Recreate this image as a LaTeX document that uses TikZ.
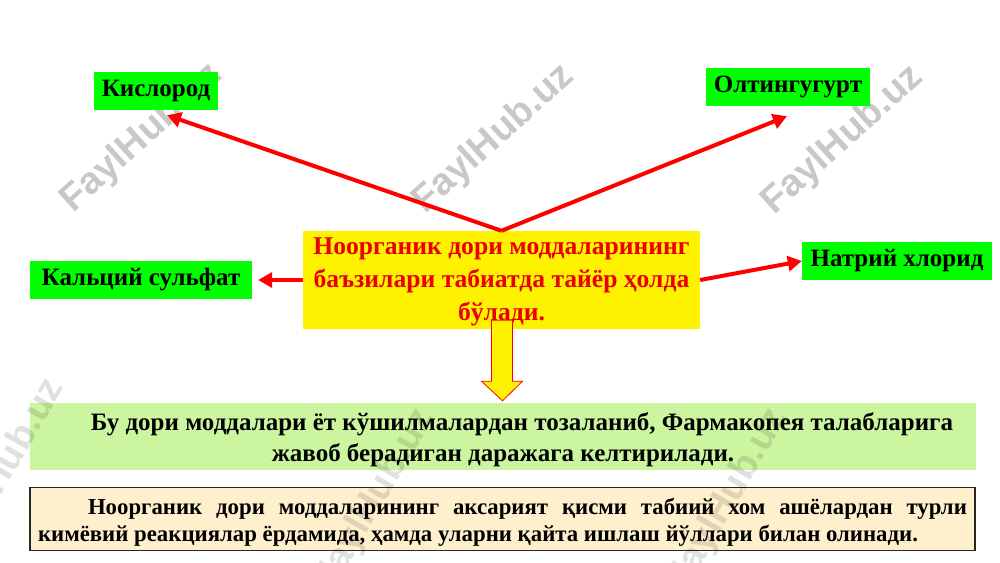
\documentclass[tikz,border=0pt]{standalone}
\usepackage{fontspec}
\setmainfont{Liberation Serif}
\newfontfamily\wmfont{Liberation Sans}
\usetikzlibrary{arrows.meta}
\definecolor{labgreen}{RGB}{0,255,0}
\definecolor{lightgr}{RGB}{204,245,160}
\definecolor{beige}{RGB}{255,240,205}
\definecolor{hotred}{RGB}{255,0,0}
\definecolor{txtred}{RGB}{235,0,0}
\definecolor{wmgray}{RGB}{200,200,200}
\begin{document}
\begin{tikzpicture}[x=1pt,y=-1pt,
  lbl/.style={fill=labgreen, inner sep=0pt, minimum height=38pt,
    font=\bfseries\fontsize{25}{28}\selectfont, text=black},
  arr/.style={draw=hotred, line width=4pt, -{Triangle[length=14pt,width=15pt]}},
  wm/.style={text=wmgray, font=\wmfont\bfseries\fontsize{38}{38}\selectfont, rotate=42},
  wmtop/.style={text=black, opacity=0.12, font=\wmfont\bfseries\fontsize{38}{38}\selectfont, rotate=60}
]
\useasboundingbox (0,0) rectangle (1000,562);
\fill[white] (0,0) rectangle (1000,562);

% watermarks (background)
\node[wm] (wm1) at (142,138) {FaylHub.uz};
\node[wm] (wm2) at (494,139) {FaylHub.uz};
\node[wm] (wm3) at (843,140) {FaylHub.uz};

% label boxes
\node[lbl, minimum width=124pt] (kis) at (156,91) {Кислород};
\node[lbl, minimum width=164pt] (olt) at (788,87) {Олтингугурт};
\node[lbl, minimum width=222pt] (kal) at (141,280) {Кальций сульфат};
\node[lbl, minimum width=190pt] (nat) at (897,261) {Натрий хлорид};

% central box
\node[fill=yellow, minimum width=397pt, minimum height=98pt, inner sep=0pt] (ctr) at (501.5,280) {};
\node[align=center, inner sep=0pt, text=txtred, font=\bfseries\fontsize{25.6}{33}\selectfont]
  (ctrtxt) at ([yshift=-2pt]ctr.center) {Ноорганик дори моддаларининг\\баъзилари табиатда тайёр ҳолда\\бўлади.};

% arrows
\draw[arr] (ctr.north) -- ([shift={(11,5)}]kis.south);
\draw[arr] (ctr.north) -- ([shift={(-1,10)}]olt.south);
\draw[arr] (ctr.west) -- ([shift={(6,0)}]kal.east);
\draw[arr] (ctr.east) -- (nat.west);

% green text box
\node[fill=lightgr, minimum width=946pt, minimum height=67pt, inner sep=0pt] (grn) at (503,436.5) {};
\node[align=center, inner sep=0pt, font=\bfseries\fontsize{25}{30.5}\selectfont]
  (grntxt) at ([yshift=-3pt]grn.center) {\hspace*{38pt}Бу дори моддалари ёт кўшилмалардан тозаланиб, Фармакопея талабларига\\жавоб берадиган даражага келтирилади.};

% block arrow from central box down to green box
\filldraw[fill=yellow, draw=hotred, line width=0.8pt]
  ([shift={(-10,-9)}]ctr.south) -- ([shift={(11,-9)}]ctr.south)
  -- ([shift={(11,52)}]ctr.south) -- ([shift={(21,52)}]ctr.south)
  -- ([shift={(1,-2)}]grn.north -| ctr.south) -- ([shift={(-20,52)}]ctr.south)
  -- ([shift={(-10,52)}]ctr.south) -- cycle;

% beige text box
\node[fill=beige, draw=black!85, line width=1.5pt, minimum width=945pt, minimum height=63pt,
  inner sep=0pt] (bge) at (502.5,519) {};
\node[inner sep=0pt, font=\bfseries\fontsize{22.8}{27}\selectfont]
  (bgetxt) at ([yshift=-3.5pt]bge.center) {\parbox{929pt}{\hyphenpenalty=10000\hspace*{50pt}Ноорганик дори моддаларининг аксарият қисми табиий хом ашёлардан турли\linebreak кимёвий реакциялар ёрдамида, ҳамда уларни қайта ишлаш йўллари билан олинади.}};

% watermarks over the lower boxes
\node[wmtop] (wm4) at (5,470) {FaylHub.uz};
\node[wmtop] (wm5) at (375,500) {FaylHub.uz};
\node[wmtop] (wm6) at (728,500) {FaylHub.uz};
\end{tikzpicture}
\end{document}
